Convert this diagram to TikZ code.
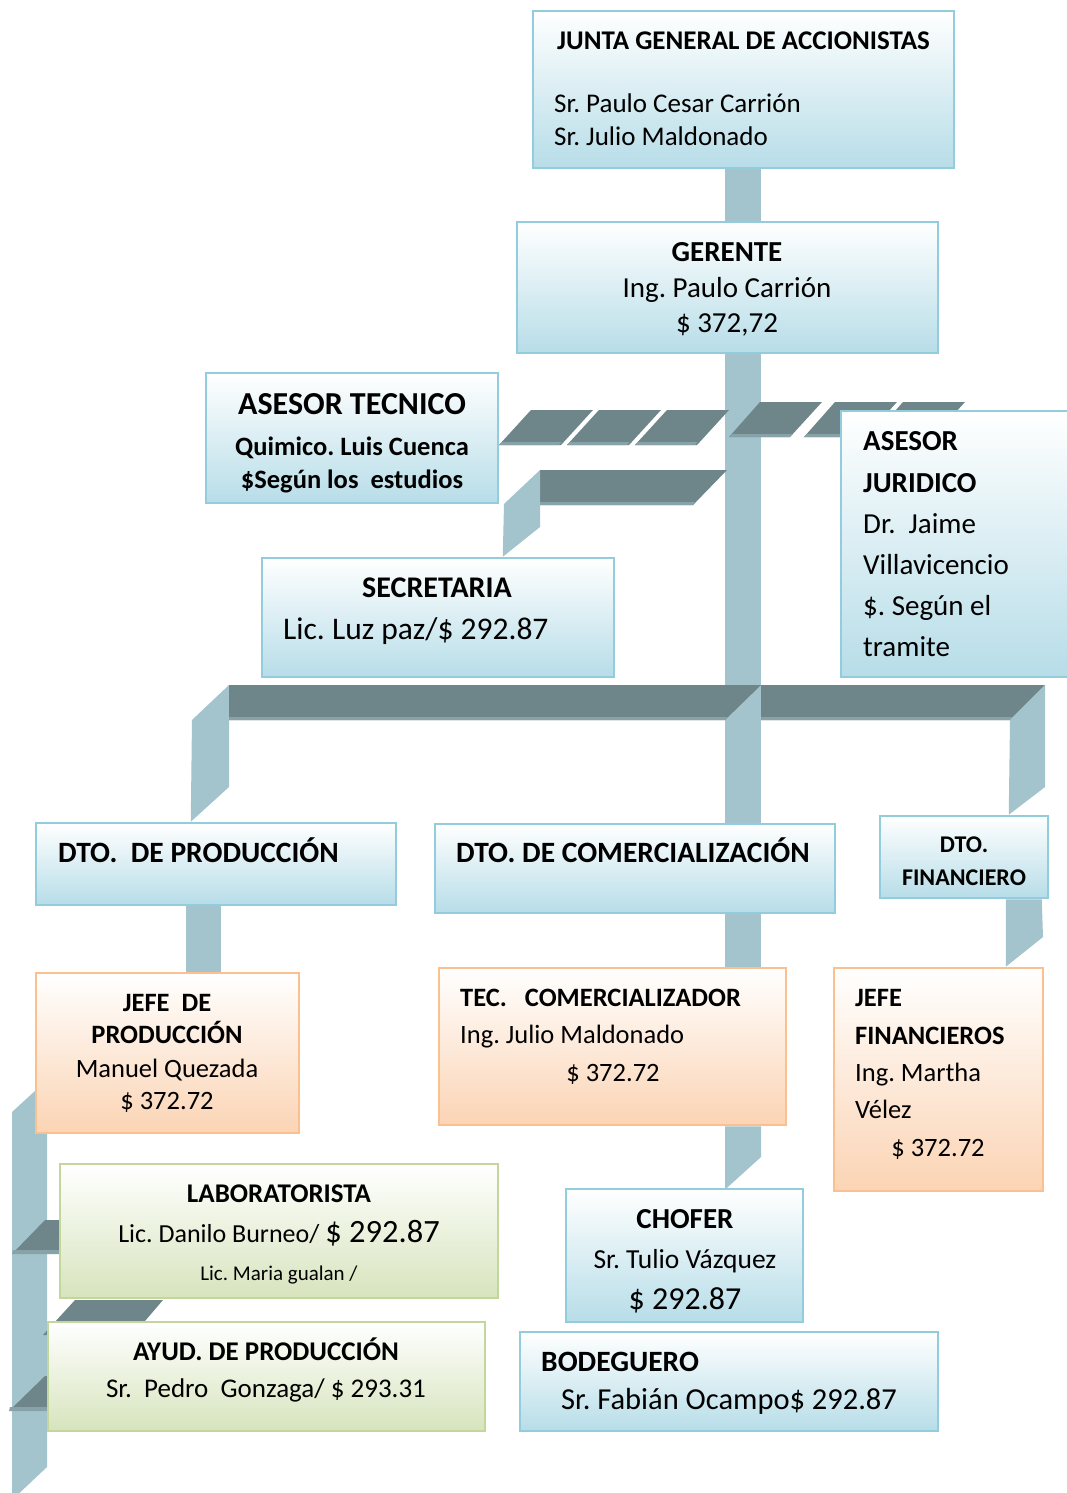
\documentclass[tikz,border=0pt]{standalone}
\usepackage{fontspec}
\setmainfont{Carlito}
\usetikzlibrary{calc,fit}
\pgfdeclarelayer{paper}
\pgfdeclarelayer{ribbons}
\pgfsetlayers{paper,ribbons,main}
\frenchspacing

\definecolor{lite}{HTML}{A3C4CC}
\definecolor{dark}{HTML}{6E8589}
\definecolor{darkedge}{HTML}{87A2A8}
\definecolor{bfill}{HTML}{B7DDE8}
\definecolor{bbord}{HTML}{93CDDD}
\definecolor{ofill}{HTML}{FBD4B4}
\definecolor{obord}{HTML}{FAC090}
\definecolor{gfill}{HTML}{D7E4BD}
\definecolor{gbord}{HTML}{C3D69B}

\tikzset{
  orgbox/.style={inner sep=0pt, line width=2.5pt},
  bluebox/.style={orgbox, draw=bbord, top color=white, bottom color=bfill},
  orangebox/.style={orgbox, draw=obord, top color=white, bottom color=ofill},
  greenbox/.style={orgbox, draw=gbord, top color=white, bottom color=gfill},
  txt/.style={inner sep=0pt, text=black},
  reg/.style={txt, font=\fontsize{#1}{#1}\selectfont},
  bld/.style={txt, font=\bfseries\fontsize{#1}{#1}\selectfont},
  ribbon/.style={fill=lite},
  arm/.style={fill=dark},
  armedge/.style={fill=darkedge}
}

\begin{document}
\begin{tikzpicture}[x=1pt,y=-1pt]
\useasboundingbox (0,0) rectangle (1066,1493);
\begin{pgfonlayer}{paper}
  \fill[white] (0,0) rectangle (1066,1493);
\end{pgfonlayer}

% ---------- boxes ----------
\node[bluebox, fit={(533,11) (954,168)}] (junta) {};
\node[bluebox, fit={(517,222) (938,353)}] (gerente) {};
\node[bluebox, fit={(206,373) (498,503)}] (tecnico) {};
\node[bluebox, fit={(262,558) (614,677)}] (secret) {};
\node[bluebox, fit={(841,411) (1070,677)}] (juridico) {};
\node[bluebox, fit={(36,823) (396,905)}] (dtop) {};
\node[bluebox, fit={(435,824) (835,913)}] (dtoc) {};
\node[bluebox, fit={(880,816) (1048,898)}] (dtof) {};
\node[orangebox, fit={(36,973) (299,1133)}] (jefep) {};
\node[orangebox, fit={(439,968) (786,1125)}] (teccom) {};
\node[orangebox, fit={(834,968) (1043,1191)}] (jefef) {};
\node[greenbox, fit={(60,1164) (498,1298)}] (lab) {};
\node[greenbox, fit={(48,1322) (485,1431)}] (ayud) {};
\node[bluebox, fit={(566,1189) (803,1322)}] (chofer) {};
\node[bluebox, fit={(520,1332) (938,1431)}] (bodega) {};

% ---------- texts ----------
\begin{scope}[shift={(0,7)}]
\node[bld=27, anchor=mid west] (juntaA) at (557,40) {JUNTA GENERAL DE ACCIONISTAS};
\node[reg=27, anchor=mid west] (juntaB) at (554,103) {Sr. Paulo Cesar Carrión};
\node[reg=27, anchor=mid west] (juntaC) at (554,136) {Sr. Julio Maldonado};

\node[bld=29, anchor=mid] (gerA) at (727,252) {GERENTE};
\node[reg=29, anchor=mid] (gerB) at (727,288) {Ing. Paulo Carrión};
\node[reg=29, anchor=mid] (gerC) at (727,323) {\$ 372,72};

\node[bld=32, anchor=mid] (tecA) at (352,405) {ASESOR TECNICO};
\node[bld=26.5, anchor=mid] (tecB) at (352,446) {Quimico. Luis Cuenca};
\node[bld=26.5, anchor=mid] (tecC) at (352,479) {\$Según los~ estudios};

\node[bld=30, anchor=mid] (secA) at (437,588) {SECRETARIA};
\node[reg=31.5, anchor=mid west] (secB) at (283,630) {Lic. Luz paz/\$ 292.87};

\node[bld=29, anchor=mid west] (jurA) at (863,441) {ASESOR};
\node[bld=29, anchor=mid west] (jurB) at (863,483) {JURIDICO};
\node[reg=29, anchor=mid west] (jurC) at (863,524) {Dr.~ Jaime};
\node[reg=29, anchor=mid west] (jurD) at (863,565) {Villavicencio};
\node[reg=29, anchor=mid west] (jurE) at (863,606) {\$. Según el};
\node[reg=29, anchor=mid west] (jurF) at (863,647) {tramite};

\node[bld=29.5, anchor=mid west] (dtopA) at (58,853) {DTO.~ DE PRODUCCIÓN};
\node[bld=29.5, anchor=mid west] (dtocA) at (456,853) {DTO. DE COMERCIALIZACIÓN};
\node[bld=24, anchor=mid] (dtofA) at (964,843) {DTO.};
\node[bld=24, anchor=mid] (dtofB) at (964,876) {FINANCIERO};

\node[bld=26.5, anchor=mid] (jpA) at (167,1002) {JEFE~ DE};
\node[bld=26.5, anchor=mid] (jpB) at (167,1034) {PRODUCCIÓN};
\node[reg=26.5, anchor=mid] (jpC) at (167,1068) {Manuel Quezada};
\node[reg=26.5, anchor=mid] (jpD) at (167,1100) {\$ 372.72};

\node[bld=26.5, anchor=mid west] (tcA) at (460,997) {TEC.~~ COMERCIALIZADOR};
\node[reg=26.5, anchor=mid west] (tcB) at (460,1034) {Ing. Julio Maldonado};
\node[reg=26.5, anchor=mid] (tcC) at (613,1072) {\$ 372.72};

\node[bld=26.5, anchor=mid west] (jfA) at (855,997) {JEFE};
\node[bld=26.5, anchor=mid west] (jfB) at (855,1035) {FINANCIEROS};
\node[reg=26.5, anchor=mid west] (jfC) at (855,1072) {Ing. Martha};
\node[reg=26.5, anchor=mid west] (jfD) at (855,1109) {Vélez};
\node[reg=26.5, anchor=mid] (jfE) at (938,1147) {\$ 372.72};

\node[bld=27, anchor=mid] (labA) at (279,1193) {LABORATORISTA};
\node[reg=26, anchor=mid] (labB) at (279,1233) {Lic. Danilo Burneo/ {\fontsize{32.5}{32.5}\selectfont\$ 292.87}};
\node[reg=21, anchor=mid] (labC) at (279,1271) {Lic. Maria gualan /};

\node[bld=27, anchor=mid] (ayA) at (266,1351) {AYUD. DE PRODUCCIÓN};
\node[reg=27, anchor=mid] (ayB) at (266,1388) {Sr.~ Pedro~ Gonzaga/ \$ 293.31};

\node[bld=29, anchor=mid] (chA) at (685,1219) {CHOFER};
\node[reg=27.5, anchor=mid] (chB) at (685,1259) {Sr. Tulio Vázquez};
\node[reg=32, anchor=mid] (chC) at (685,1300) {\$ 292.87};

\node[bld=29.5, anchor=mid west] (boA) at (541,1362) {BODEGUERO};
\node[reg=30.5, anchor=mid west] (boB) at (561,1400) {Sr. Fabián Ocampo\$ 292.87};
\end{scope}

% ---------- 3D ribbon connectors (behind the boxes) ----------
\begin{pgfonlayer}{ribbons}
  % main trunk from the board down to the commercial department
  \fill[ribbon] ($(junta.south)+(-18.5,0)$) rectangle ($(dtoc.north -| junta.south)+(17.5,0)$);

  % dashed link to the technical adviser
  \foreach \a in {499,567,635}{
    \fill[arm] (\a+32,410) -- (\a+94,410) -- (\a+62,445) -- (\a,445) -- cycle;
    \fill[armedge] (\a+3,442) -- (\a+62.5,442) -- (\a+60,445) -- (\a,445) -- cycle;
  }
  % dashed link to the legal adviser
  \foreach \a in {729,804,872}{
    \fill[arm] (\a+31,402) -- (\a+93,402) -- (\a+61,437) -- (\a,437) -- cycle;
    \fill[armedge] (\a+3,434) -- (\a+63.5,434) -- (\a+61,437) -- (\a,437) -- cycle;
  }

  % elbow to the secretary
  \fill[arm] (540,470) -- (727,470) -- (693,505) -- (540,505) -- cycle;
  \fill[armedge] (540,502) -- (696,502) -- (693,505) -- (540,505) -- cycle;
  \fill[ribbon] (504,504) -- (540,470) -- (540,527) -- ($(secret.north west)+(242,0)$) -- cycle;

  % department bar
  \fill[ribbon] (192,720) -- (229,685) -- (229,787) -- ($(dtop.north west)+(156,0)$) -- cycle;
  \fill[arm] (229,685) -- (761,685) -- (725,720) -- (229,720) -- cycle;
  \fill[armedge] (229,717) -- (728,717) -- (725,720) -- (229,720) -- cycle;
  \fill[arm] (761,685) -- (1045,685) -- (1010,720) -- (761,720) -- cycle;
  \fill[armedge] (761,717) -- (1013,717) -- (1010,720) -- (761,720) -- cycle;
  \fill[ribbon] (1010,720) -- (1045,685) -- (1045,787) -- ($(dtof.north west)+(130,0)$) -- cycle;

  % production department to its head
  \fill[ribbon] ($(dtop.south west)+(151,0)$) rectangle ($(jefep.north west)+(186,0)$);

  % commercial department to the sales technician
  \fill[ribbon] ($(dtoc.south -| junta.south)+(-18.5,0)$) rectangle ($(teccom.north -| junta.south)+(17.5,0)$);

  % sales technician to the driver
  \fill[ribbon] ($(teccom.south -| junta.south)+(-18.5,0)$) -- ($(teccom.south -| junta.south)+(17.5,0)$)
     -- (761,1157) -- ($(chofer.north -| junta.south)+(-16.5,0)$) -- ($(chofer.north -| junta.south)+(-18.5,0)$) -- cycle;

  % finance department to its head
  \fill[ribbon] ($(dtof.south west)+(127,0)$) -- ($(dtof.south west)+(163,0)$) -- (1043,937)
     -- ($(jefef.north west)+(173,0)$) -- cycle;

  % side column of the production branch
  \fill[ribbon] (12,1112) -- (47,1080) -- (47,1467) -- (12,1500) -- cycle;
  \fill[arm] (13,1253) -- (45,1220) -- (lab.west |- 0,1220) -- (lab.west |- 0,1253) -- cycle;
  \fill[armedge] (13,1250) -- (62,1250) -- (62,1254) -- (12,1254) -- cycle;
  \fill[arm] (43,1335) -- (75,1300) -- (163,1300) -- (133,1335) -- cycle;
  \fill[arm] (10,1410) -- (45,1376) -- (ayud.west |- 0,1376) -- (ayud.west |- 0,1410) -- cycle;
  \fill[armedge] (10,1407) -- (50,1407) -- (50,1411) -- (9,1411) -- cycle;
\end{pgfonlayer}
\end{tikzpicture}
\end{document}
